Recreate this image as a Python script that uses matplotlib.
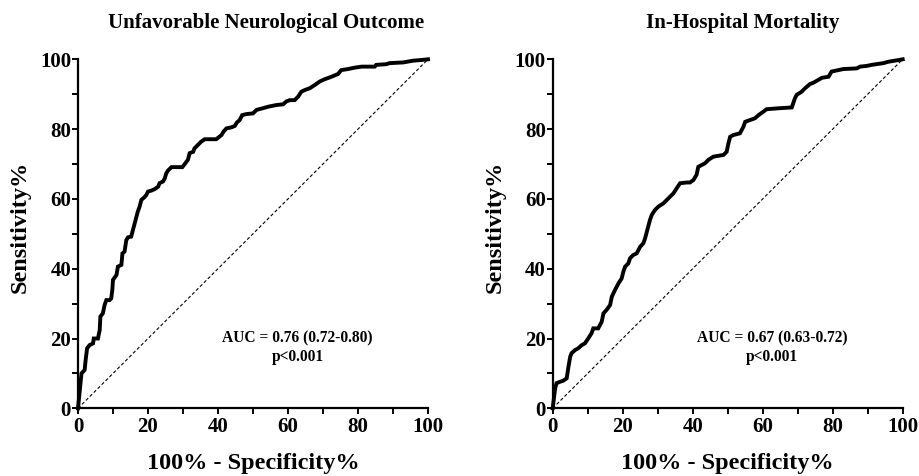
import matplotlib
matplotlib.use("Agg")
import matplotlib.pyplot as plt
from matplotlib.ticker import MultipleLocator

# ---- data ----
neuro_fpr = [0, 1, 1.9, 2.2, 2.6, 3.3, 4.3, 4.5, 5.7, 6, 6.2, 6.4, 7.1, 7.6, 8.1, 9, 9.5, 9.8, 10,
             11, 11.4, 12.4, 12.7, 13.3, 13.8, 14.3, 15.2, 15.7, 16.2, 16.7, 17.1, 17.6, 18.1, 19,
             19.5, 20, 21, 21.9, 22.9, 23.3, 24.3, 24.8, 25.2, 25.7, 26.7, 28.1, 29.8, 30.5, 31.4,
             31.9, 32.9, 33.3, 34.3, 35.2, 36.2, 38.1, 39.5, 41, 41.6, 42.4, 43.8, 44.8, 45.4, 46.2,
             46.9, 48.1, 50, 51, 52.9, 54.3, 55.2, 56.7, 58.6, 59.5, 60.5, 61.9, 62.9, 63.8, 64.8,
             66.2, 67.6, 69, 70.5, 71.9, 72.9, 74.3, 75.2, 77.1, 79, 81, 84.8, 85.2, 88.1, 89, 92.9,
             95.7, 98.1, 100]
neuro_tpr = [0, 10, 11, 14, 17.2, 18.1, 18.6, 20, 20, 21.5, 22.4, 26.3, 27.2, 29.6, 31, 31, 31.5,
             33.9, 36.8, 38.2, 40.6, 41.1, 44.4, 44.9, 48.2, 49, 49.2, 51.1, 53, 54.9, 56.4, 57.8,
             59.7, 60.5, 61.1, 62.1, 62.4, 62.8, 63.5, 64.5, 65, 65.9, 67.3, 68.1, 69.1, 69.1, 69.1,
             70, 71.2, 73.1, 73.5, 74.5, 75.5, 76.4, 77.1, 77.1, 77.1, 78.3, 79.3, 80.2, 80.5, 80.9,
             81.9, 82.6, 84, 84.3, 84.5, 85.5, 86, 86.4, 86.6, 86.9, 87.1, 87.9, 88.3, 88.3, 89.3,
             90.7, 91.2, 91.7, 92.6, 93.6, 94.3, 94.8, 95.2, 95.8, 96.9, 97.2, 97.6, 97.9, 97.9, 98.4,
             98.6, 98.9, 99.1, 99.6, 99.8, 100]

mort_fpr = [0, 0.4, 0.7, 1.1, 2.1, 3, 4, 4.5, 5, 5.4, 6.4, 7.3, 8.3, 9.2, 10.2, 11.1, 11.6, 13, 14,
            14.5, 15.4, 16.4, 16.9, 17.8, 18.8, 19.7, 20.2, 20.7, 21.6, 22.1, 23, 24, 25, 25.9,
            26.4, 26.9, 27.8, 28.3, 29.2, 30.2, 31.6, 32.6, 33.5, 34.5, 35.4, 36.4, 38.3, 39.2,
            40.2, 41.1, 41.6, 43.5, 44.5, 45.9, 48.8, 49.7, 50.2, 50.7, 51.6, 53.5, 54.5, 55, 56.4,
            57.8, 58.8, 60.2, 61.1, 65, 68.3, 69.2, 69.7, 71.1, 72.1, 73.5, 74.5, 75.9, 76.9, 78.8,
            79.7, 81.6, 83, 86.9, 87.8, 89.7, 91.1, 94.5, 95.9, 98.9, 100]
mort_tpr = [0, 3.3, 5.7, 7.2, 7.6, 7.9, 8.6, 11.9, 14.8, 15.8, 16.7, 17.2, 18.1, 18.6, 20.1, 21.5,
            22.9, 22.9, 24.8, 27.2, 28.2, 29.6, 32, 33.9, 35.8, 37.2, 39.2, 40.6, 41.5, 43, 43.9,
            44.4, 46.3, 47.3, 48.7, 50.6, 54, 55.4, 56.8, 57.8, 58.7, 59.7, 60.6, 61.6, 63, 64.5,
            64.7, 64.7, 65.4, 66.9, 69.2, 70.2, 71.2, 72.1, 72.6, 73.5, 75.9, 77.8, 78.3, 78.8,
            80.7, 82.1, 82.6, 83.1, 84, 85, 85.7, 86, 86.2, 88.8, 89.8, 90.7, 91.7, 92.9, 93.3,
            94.1, 94.7, 95, 96.5, 96.9, 97.2, 97.4, 97.9, 98.1, 98.4, 98.9, 99.3, 99.8, 100]

titles = ["Unfavorable Neurological Outcome", "In-Hospital Mortality"]
auc_lines = ["AUC = 0.76 (0.72-0.80)", "AUC = 0.67 (0.63-0.72)"]
p_text = "p<0.001"
xlabel = "100% - Specificity%"
ylabel = "Sensitivity%"
ticks = [0, 20, 40, 60, 80, 100]

plt.rcParams['font.family'] = ['Liberation Serif', 'DejaVu Serif']
plt.rcParams['font.weight'] = 'bold'

fig = plt.figure(figsize=(9.19, 4.76), dpi=100)
W, H = 919, 476
ax_boxes = [(78, 428), (552.7, 902.7)]
title_x = [266, 742.5]
curves = [(neuro_fpr, neuro_tpr), (mort_fpr, mort_tpr)]

for i in range(2):
    x0, x1 = ax_boxes[i]
    ax = fig.add_axes([x0 / W, 1 - 408.3 / H, (x1 - x0) / W, (408.3 - 59.3) / H])
    fx, ty = curves[i]
    ax.plot(fx, ty, color='black', lw=2.8, solid_joinstyle='miter', zorder=3, clip_on=False)
    ax.plot([0, 100], [0, 100], color='black', lw=0.8, dashes=(3, 2), zorder=2)
    ax.set_xlim(0, 100)
    ax.set_ylim(0, 100)
    for s in ['top', 'right']:
        ax.spines[s].set_visible(False)
    for s in ['left', 'bottom']:
        ax.spines[s].set_linewidth(1.6)
    ax.set_xticks(ticks)
    ax.set_yticks(ticks)
    ax.xaxis.set_minor_locator(MultipleLocator(10))
    ax.yaxis.set_minor_locator(MultipleLocator(10))
    ax.tick_params(which='both', direction='out', length=4, width=1.4, color='black')
    ax.tick_params(axis='y', which='major', pad=1, labelsize=15)
    ax.tick_params(axis='x', which='major', pad=2, labelsize=15)
    for lab in ax.get_xticklabels() + ax.get_yticklabels():
        lab.set_fontweight('bold')
    ax.set_xlabel(xlabel, fontsize=17.5, fontweight='bold', labelpad=12)
    ax.set_ylabel(ylabel, fontsize=17.5, fontweight='bold')
    ax.yaxis.set_label_coords(-0.135, 0.52)
    ax.text(62.7, 20.1, auc_lines[i], ha='center', va='center', fontsize=11.2, fontweight='bold')
    ax.text(62.7, 14.8, p_text, ha='center', va='center', fontsize=11.2, fontweight='bold')
    fig.text(title_x[i] / W, 1 - 23 / H, titles[i], ha='center', va='center', fontsize=15,
             fontweight='bold')

fig.savefig("out.png", dpi=100)
